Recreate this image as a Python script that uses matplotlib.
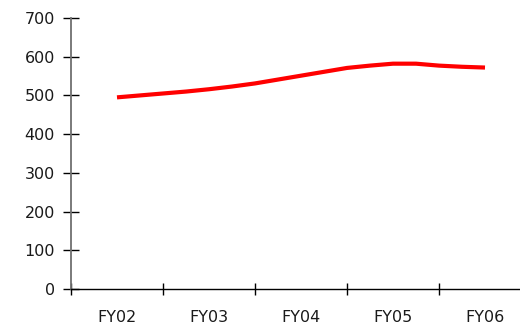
import numpy as np
import matplotlib
matplotlib.use('Agg')
from matplotlib import pyplot as plt
from matplotlib.ticker import FixedLocator

plt.rcParams['font.family'] = ['DejaVu Sans']

years = ['FY02', 'FY03', 'FY04', 'FY05', 'FY06']
# quarterly readings, FY02 .. FY06
values = [495, 500, 505, 510, 516, 523, 531, 541, 551,
          561, 571, 577, 582, 582, 577, 574, 572]

quarters = np.arange(len(values)) / 4.0

fig = plt.figure(figsize=(5.2, 3.31), dpi=100)
ax = fig.add_axes([71 / 520, 42 / 331, 460 / 520, 271 / 331])

ax.plot(quarters, values, color='#ff0000', linewidth=3.0, solid_capstyle='butt')

ax.set_xlim(-0.5, len(years) - 0.5)
ax.set_ylim(0, 700)
ax.set_yticks(np.arange(0, 701, 100))

ax.xaxis.set_major_locator(FixedLocator(np.arange(len(years) + 1) - 0.5))
ax.xaxis.set_minor_locator(FixedLocator(np.arange(len(years))))
ax.set_xticklabels([])
ax.set_xticklabels(years, minor=True)

ax.tick_params(axis='x', which='major', direction='inout', length=9, width=1, color='black')
ax.tick_params(axis='x', which='minor', length=0, pad=15, labelsize=11.5, labelcolor='#1a1a1a')
ax.tick_params(axis='y', direction='inout', length=11, width=1, color='black',
               pad=6, labelsize=11.5, labelcolor='#1a1a1a')

for side in ['top', 'right']:
    ax.spines[side].set_visible(False)
ax.spines['left'].set_color('#707070')
ax.spines['left'].set_linewidth(1.3)
ax.spines['bottom'].set_color('black')
ax.spines['bottom'].set_linewidth(1.0)

fig.savefig('out.png', dpi=100)
